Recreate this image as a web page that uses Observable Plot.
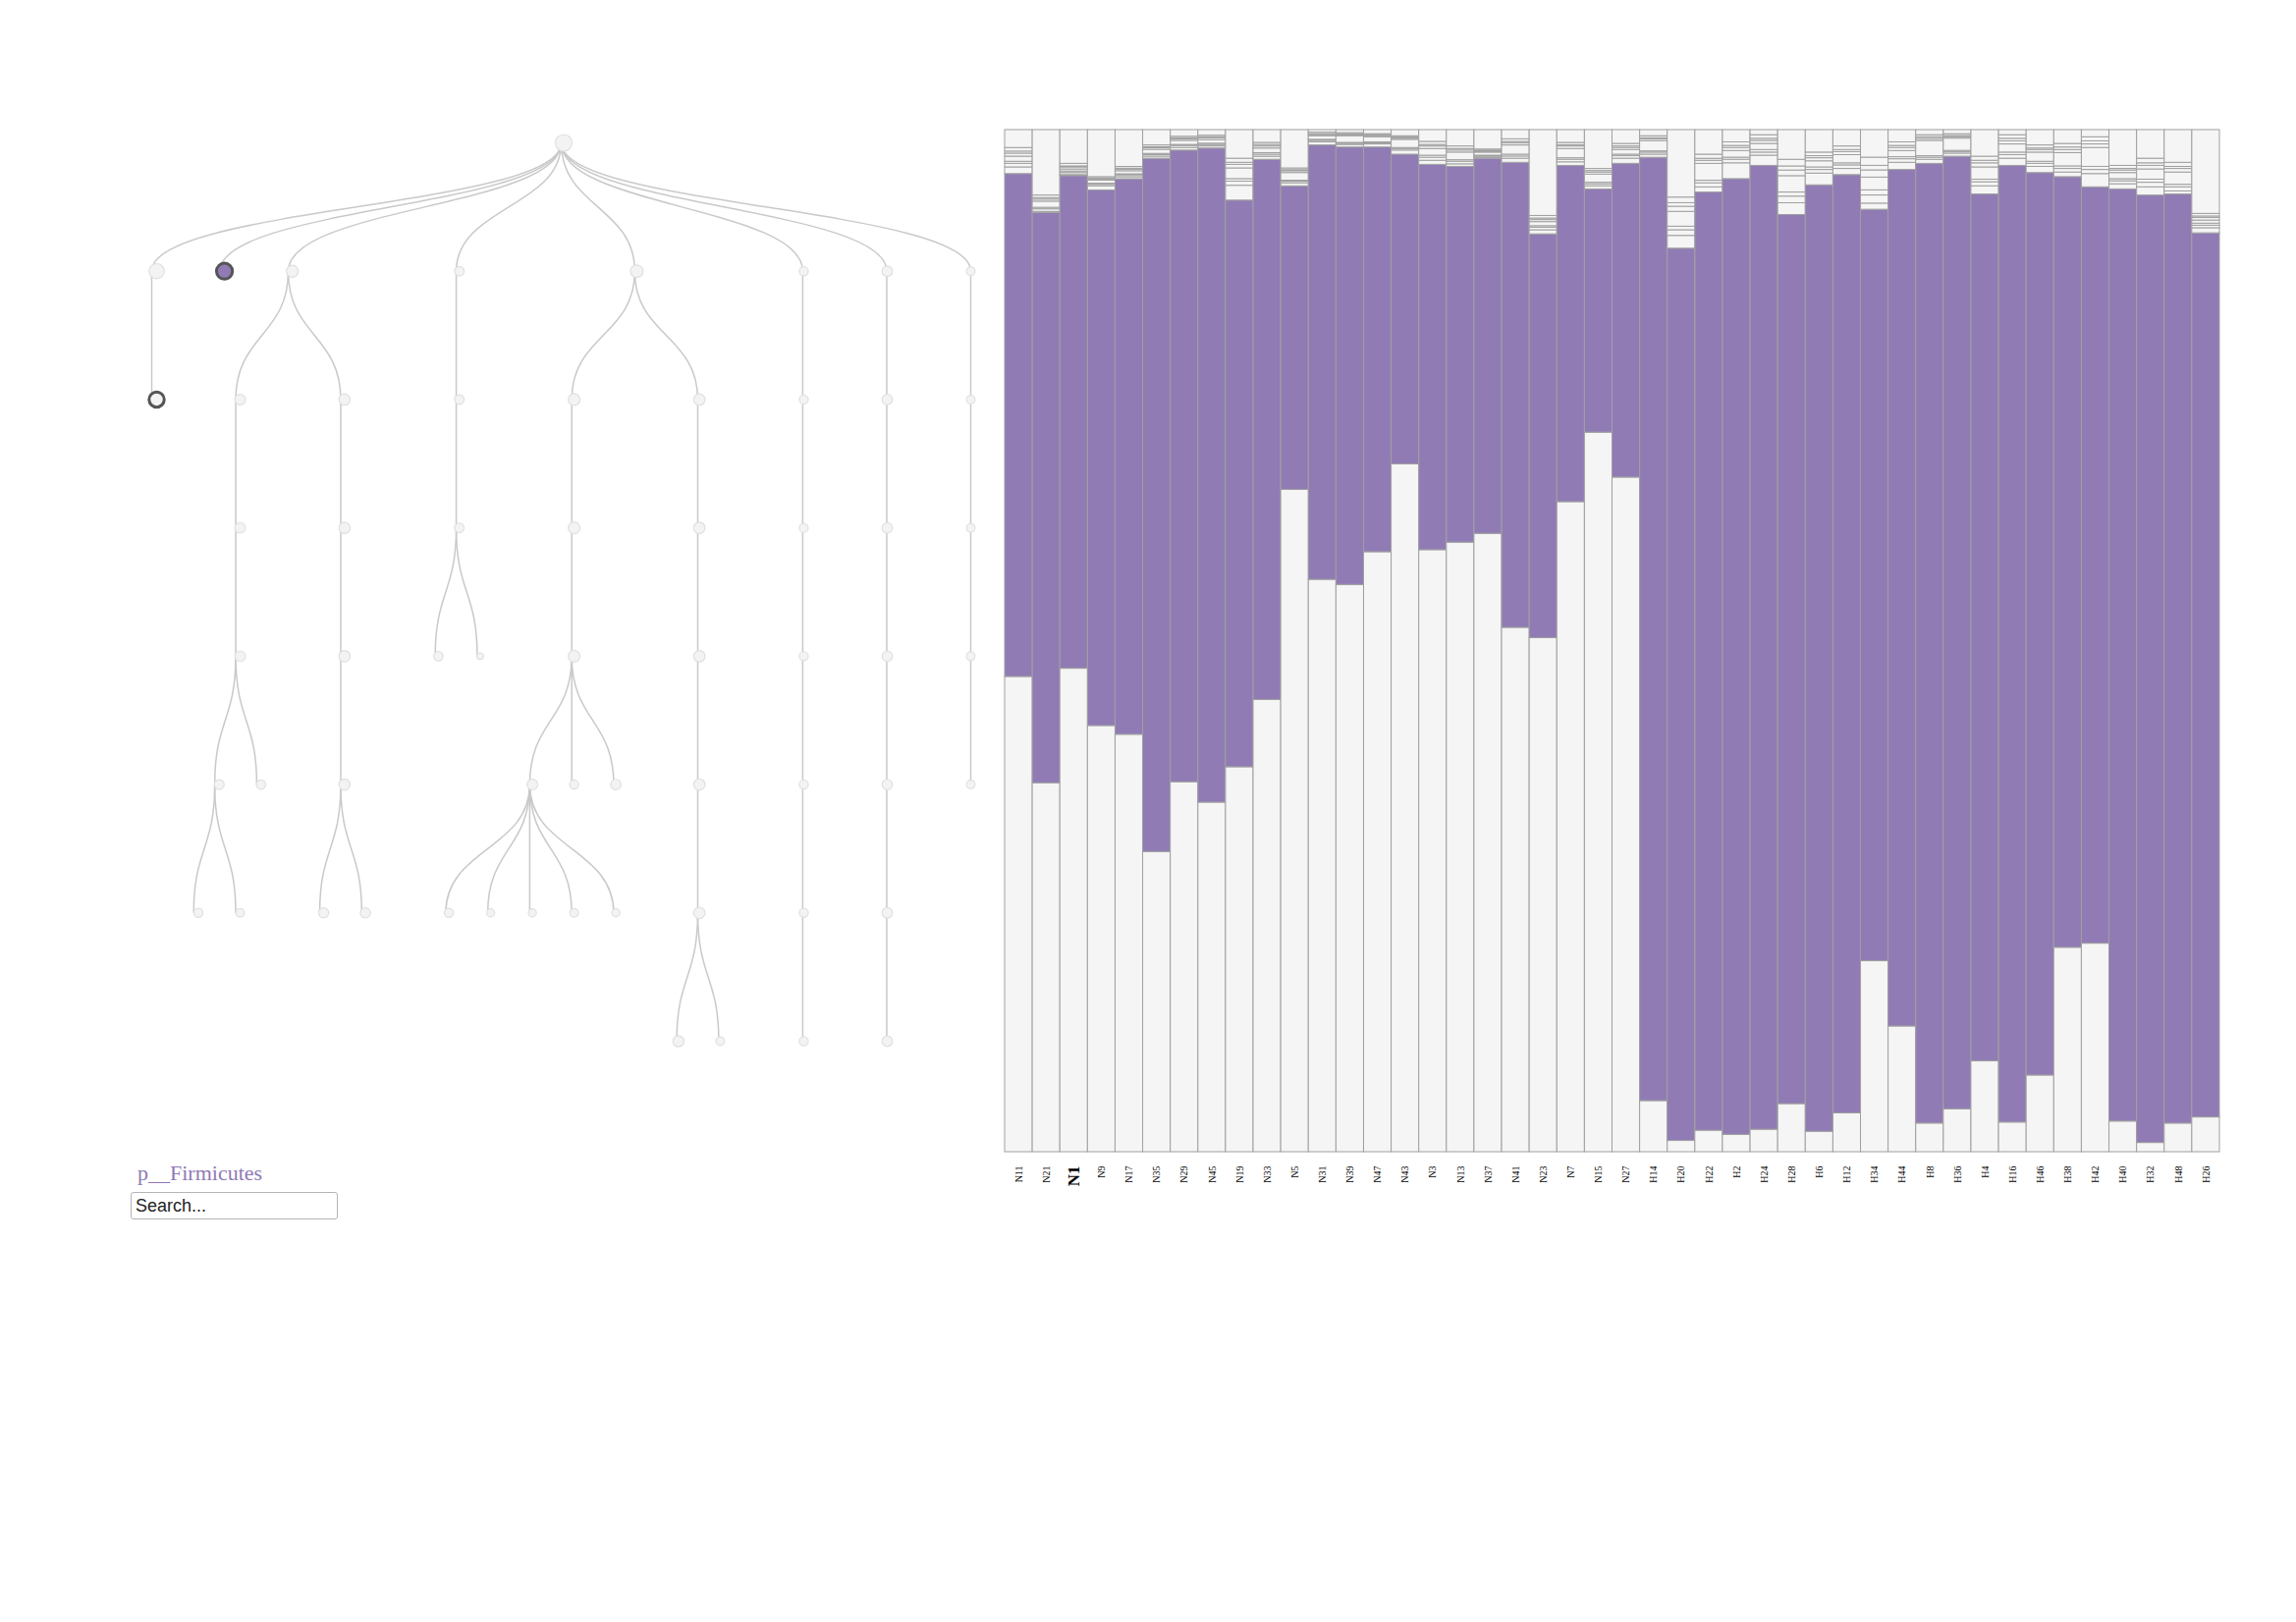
<!DOCTYPE html>
<html>
<head>
<meta charset="utf-8">
<script src="https://cdn.jsdelivr.net/npm/d3@7"></script>
<script src="https://cdn.jsdelivr.net/npm/@observablehq/plot@0.6"></script>
<style>
  html, body { margin: 0; padding: 0; background: #ffffff; }
  #page { position: relative; width: 2338px; height: 1652px; background: #ffffff; overflow: hidden; }
  #treeLinks, #treeNodes { position: absolute; left: 0; top: 0; }
  #bars { position: absolute; left: 1000px; top: 100px; }
  #selected { position: absolute; left: 140px; top: 1184px; font: 22px/22px "Liberation Serif", "Times New Roman", serif; color: #8f79b5; white-space: nowrap; }
  #search { position: absolute; left: 133px; top: 1214px; width: 211px; height: 28px; box-sizing: border-box;
            font: 18px "Liberation Sans", Arial, sans-serif; padding: 1px 4px; border: 1px solid #b4b4b4; border-radius: 3px; color: #222; }
  #search::placeholder { color: #222; opacity: 1; }
</style>
</head>
<body>
<div id="page">
  <div id="treeLinks"></div>
  <div id="treeNodes"></div>
  <div id="bars"></div>
  <div id="selected">p__Firmicutes</div>
  <input id="search" type="text" placeholder="Search...">
</div>
<script>
// ---------- Taxonomy tree ----------
const treeIds = [
  "k__Bacteria",
  "p__Bacteroidetes", "c__Bacteroidia",
  "p__Firmicutes",
  "p__Proteobacteria",
  "c__Gammaproteobacteria", "o__Enterobacteriales", "f__Enterobacteriaceae",
  "g__Escherichia", "s__coli", "s__albertii", "g__Klebsiella",
  "c__Betaproteobacteria", "o__Burkholderiales", "f__Alcaligenaceae", "g__Sutterella",
  "s__wadsworthensis", "s__stercoricanis",
  "p__Actinobacteria", "c__Actinobacteria", "o__Bifidobacteriales",
  "f__Bifidobacteriaceae", "f__Coriobacteriaceae",
  "p__Tenericutes", "c__Mollicutes", "o__RF39", "f__RF39",
  "g__RF39_1", "s__RF39_1a", "s__RF39_1b", "s__RF39_1c", "s__RF39_1d", "s__RF39_1e",
  "g__RF39_2", "g__RF39_3",
  "c__ML615J-28", "o__ML615J-28", "f__ML615J-28", "g__ML615J-28", "s__ML615J-28",
  "t__ML615J-28a", "t__ML615J-28b",
  "p__Verrucomicrobia", "c__Verrucomicrobiae", "o__Verrucomicrobiales", "f__Verrucomicrobiaceae",
  "g__Akkermansia", "s__muciniphila", "t__muciniphila",
  "p__Cyanobacteria", "c__4C0d-2", "o__YS2", "f__YS2", "g__YS2", "s__YS2", "t__YS2",
  "p__Synergistetes", "c__Synergistia", "o__Synergistales", "f__Synergistaceae", "g__Cloacibacillus"
];
const treeParents = [
  null,
  "k__Bacteria", "p__Bacteroidetes",
  "k__Bacteria",
  "k__Bacteria",
  "p__Proteobacteria", "c__Gammaproteobacteria", "o__Enterobacteriales",
  "f__Enterobacteriaceae", "g__Escherichia", "g__Escherichia", "f__Enterobacteriaceae",
  "p__Proteobacteria", "c__Betaproteobacteria", "o__Burkholderiales", "f__Alcaligenaceae",
  "g__Sutterella", "g__Sutterella",
  "k__Bacteria", "p__Actinobacteria", "c__Actinobacteria",
  "o__Bifidobacteriales", "o__Bifidobacteriales",
  "k__Bacteria", "p__Tenericutes", "c__Mollicutes", "o__RF39",
  "f__RF39", "g__RF39_1", "g__RF39_1", "g__RF39_1", "g__RF39_1", "g__RF39_1",
  "f__RF39", "f__RF39",
  "p__Tenericutes", "c__ML615J-28", "o__ML615J-28", "f__ML615J-28", "g__ML615J-28",
  "s__ML615J-28", "s__ML615J-28",
  "k__Bacteria", "p__Verrucomicrobia", "c__Verrucomicrobiae", "o__Verrucomicrobiales",
  "f__Verrucomicrobiaceae", "g__Akkermansia", "s__muciniphila",
  "k__Bacteria", "p__Cyanobacteria", "c__4C0d-2", "o__YS2", "f__YS2", "g__YS2", "s__YS2",
  "k__Bacteria", "p__Synergistetes", "c__Synergistia", "o__Synergistales", "f__Synergistaceae"
];
const treeAbundance = [
  100,
  33, 33,
  58,
  3.2,
  1.2, 1.2, 1.2,
  0.7, 0.4, 0.3, 0.5,
  2.0, 2.0, 2.0, 2.0,
  0.9, 0.9,
  0.6, 0.6, 0.6,
  0.5, 0.07,
  5.0, 2.8, 2.8, 2.8,
  1.3, 0.4, 0.2, 0.2, 0.3, 0.2,
  0.4, 1.1,
  2.2, 2.2, 2.2, 2.2, 2.2,
  1.9, 0.3,
  0.4, 0.4, 0.4, 0.4, 0.4, 0.4, 0.4,
  1.1, 1.1, 1.1, 1.1, 1.1, 1.1, 1.1,
  0.3, 0.3, 0.3, 0.3, 0.3
];
const selectedTaxon = "p__Firmicutes";
const hoveredTaxon = "c__Bacteroidia";

// ---------- Stacked bars ----------
const samples = ["N11","N21","N1","N9","N17","N35","N29","N45","N19","N33","N5","N31","N39","N47","N43","N3","N13","N37","N41","N23","N7","N15","N27",
  "H14","H20","H22","H2","H24","H28","H6","H12","H34","H44","H8","H36","H4","H16","H46","H38","H42","H40","H32","H48","H26"];
const hoveredSample = "N1";

const bacteroidetes = [46.5,36.1,47.3,41.7,40.8,29.4,36.2,34.2,37.7,44.2,64.8,56.0,55.5,58.7,67.3,58.9,59.7,60.5,51.3,50.3,63.6,70.4,66.0,
  5.0,1.1,2.1,1.7,2.2,4.7,2.0,3.8,18.7,12.3,2.8,4.2,8.9,2.9,7.5,20.0,20.4,3.0,0.9,2.8,3.4];
const firmicutes = [49.2,55.8,48.2,52.4,54.3,67.9,61.8,64.0,55.5,52.8,29.7,42.5,42.8,39.6,30.3,37.7,36.8,36.7,45.5,39.5,32.9,23.8,30.7,
  92.3,87.3,91.7,93.6,94.3,86.9,92.6,91.8,73.6,83.8,93.8,93.2,84.8,93.6,88.3,75.4,74.0,91.2,92.7,90.9,86.5];
const escherichia = [0.65,0.1,0.1,0.4,0.2,0.2,0.25,0.2,1.45,0.3,0.3,0.3,0.25,0.3,0.4,0.4,0.25,0.1,0.4,0.4,0.35,0.3,0.5,
  0.3,1.25,0.5,1.55,1.0,1.15,1.15,0.6,0.6,0.7,0.4,0.3,0.8,0.7,0.6,0.45,1.3,0.5,0.8,0.3,0.5];
const bifidobacterium = [0.35,0.25,0.2,0.15,0.18,0.15,0.2,0.15,0.4,0.2,0.15,0.15,0.12,0.1,0.15,0.3,0.25,0.12,0.22,0.25,0.25,0.2,0.25,
  0.2,0.55,0.4,0.35,0.3,0.65,0.35,0.35,0.8,0.35,0.2,0.15,0.4,0.35,0.3,0.35,0.4,0.3,0.45,0.4,0.25];
const collinsella = [0.2,0.15,0.15,0.1,0.1,0.12,0.1,0.12,0.25,0.15,0.1,0.1,0.08,0.1,0.1,0.2,0.15,0.08,0.18,0.15,0.15,0.15,0.15,
  0.12,0.35,0.25,0.2,0.25,0.4,0.25,0.2,0.5,0.2,0.15,0.12,0.25,0.25,0.2,0.25,0.3,0.2,0.3,0.25,0.2];
const akkermansia = [0.5,0.6,0.2,0.3,0.3,0.4,0.4,0.35,1.05,0.45,0.75,0.35,0.65,0.5,0.8,0.65,0.75,0.3,0.9,0.4,0.9,0.8,0.45,
  1.0,1.45,1.65,0.65,0.6,1.6,0.6,0.8,1.25,0.6,1.5,1.2,1.2,0.8,0.9,1.3,1.85,0.6,1.0,1.2,0.3];
const desulfovibrio = [0.3,0.2,0.2,0.12,0.15,0.15,0.15,0.18,0.35,0.2,0.18,0.12,0.1,0.12,0.12,0.25,0.2,0.1,0.2,0.2,0.25,0.2,0.2,
  0.18,0.5,0.3,0.3,0.3,0.55,0.3,0.3,0.7,0.3,0.2,0.15,0.4,0.3,0.25,0.3,0.35,0.25,0.35,0.35,0.25];
const sutterella = [0.2,0.15,0.1,0.08,0.1,0.1,0.1,0.1,0.2,0.15,0.1,0.08,0.08,0.08,0.1,0.15,0.15,0.08,0.15,0.15,0.12,0.15,0.15,
  0.1,0.35,0.2,0.2,0.2,0.4,0.2,0.2,0.45,0.2,0.15,0.1,0.25,0.25,0.15,0.25,0.3,0.15,0.25,0.2,0.15];
const rf39 = [0.35,0.25,0.25,0.15,0.17,0.18,0.15,0.15,0.4,0.2,0.17,0.15,0.12,0.1,0.13,0.3,0.25,0.12,0.25,0.25,0.23,0.2,0.25,
  0.2,0.55,0.4,0.35,0.35,0.65,0.35,0.35,0.8,0.35,0.2,0.18,0.4,0.35,0.3,0.35,0.4,0.3,0.45,0.4,0.25];
const otherTaxa = [1.75,6.4,3.3,4.6,3.6,1.5,0.65,0.55,2.8,1.25,3.75,0.25,0.3,0.4,0.6,1.15,1.6,1.9,0.9,8.4,1.25,3.8,1.35,
  0.6,6.6,2.4,1.2,0.5,2.9,2.2,1.6,2.7,1.2,0.5,0.4,2.6,0.5,1.5,1.35,0.7,3.5,2.8,3.2,8.2];

const taxa = ["p__Bacteroidetes","p__Firmicutes","g__Escherichia","g__Bifidobacterium","g__Collinsella",
  "g__Akkermansia","g__Desulfovibrio","g__Sutterella","g__RF39","Other"];
const series = [bacteroidetes, firmicutes, escherichia, bifidobacterium, collinsella,
  akkermansia, desulfovibrio, sutterella, rf39, otherTaxa];

// ---------- Tree layout (d3.tree) ----------
const PURPLE = "#907bb5";
const table = treeIds.map((id, i) => ({id, parent: treeParents[i], abundance: treeAbundance[i]}));
const root = d3.stratify().id(d => d.id).parentId(d => d.parent)(table);
d3.tree().nodeSize([1, 1]).separation((a, b) => (a.parent === b.parent ? 1 : 2))(root);
const nodes = root.descendants().map(n => ({id: n.id, x: n.x, depth: n.depth, abundance: n.data.abundance}));
const links = root.links().map(l => ({x1: l.source.x, y1: l.source.depth, x2: l.target.x, y2: l.target.depth}));
const plainNodes = nodes.filter(n => n.id !== selectedTaxon && n.id !== hoveredTaxon);

const treeFrame = {
  width: 1010, height: 1110, marginRight: 22, marginTop: 145, marginBottom: 50,
  style: {background: "transparent", overflow: "visible"},
  x: {axis: null},
  y: {axis: null, domain: [0, 7], reverse: true},
  r: {type: "log", domain: [0.01, 100], range: [2, 8.5]}
};

// links layer
const linkPlot = Plot.plot({
  ...treeFrame, marginLeft: 154,
  marks: [
    Plot.link(links, {x1: "x1", y1: "y1", x2: "x2", y2: "y2", curve: "bump-y", stroke: "#c9c9c9", strokeWidth: 1.5})
  ]
});
document.getElementById("treeLinks").appendChild(linkPlot);

// nodes layer (drawn slightly offset, as in the captured transition)
const nodePlot = Plot.plot({
  ...treeFrame, marginLeft: 159,
  marks: [
    Plot.dot(plainNodes, {x: "x", y: "depth", r: "abundance", fill: "#f3f3f3", stroke: "#e0e0e0", strokeWidth: 1.2}),
    Plot.dot(nodes.filter(n => n.id === hoveredTaxon), {x: "x", y: "depth", r: "abundance", fill: "#f3f3f3", stroke: "#555555", strokeWidth: 3}),
    Plot.dot(nodes.filter(n => n.id === selectedTaxon), {x: "x", y: "depth", r: "abundance", fill: PURPLE, stroke: "#555555", strokeWidth: 3})
  ]
});
document.getElementById("treeNodes").appendChild(nodePlot);

// ---------- Bar plot ----------
const barData = [];
samples.forEach((s, i) => taxa.forEach((t, j) => barData.push({sample: s, taxon: t, value: series[j][i]})));
const taxaFill = taxa.map(t => (t === selectedTaxon ? PURPLE : "#f5f5f5"));

const barPlot = Plot.plot({
  width: 1290, height: 1140,
  marginLeft: 23, marginRight: 30, marginTop: 32, marginBottom: 67,
  style: {background: "transparent", overflow: "visible", fontFamily: "'Liberation Serif', 'Times New Roman', serif"},
  x: {domain: samples, padding: 0, round: false, axis: null},
  y: {axis: null},
  color: {domain: taxa, range: taxaFill},
  marks: [
    Plot.barY(barData, {x: "sample", y: "value", fill: "taxon", order: taxa, offset: "normalize",
      stroke: "#a0a0a0", strokeWidth: 1}),
    Plot.text(samples.filter(s => s !== hoveredSample), {x: d => d, text: d => d, frameAnchor: "bottom", dy: 14,
      rotate: -90, textAnchor: "end", lineAnchor: "middle", fontSize: 10, fill: "#000"}),
    Plot.text([hoveredSample], {x: d => d, text: d => d, frameAnchor: "bottom", dy: 14,
      rotate: -90, textAnchor: "end", lineAnchor: "middle", fontSize: 17, fontWeight: "bold", fill: "#000"})
  ]
});
document.getElementById("bars").appendChild(barPlot);
</script>
</body>
</html>
